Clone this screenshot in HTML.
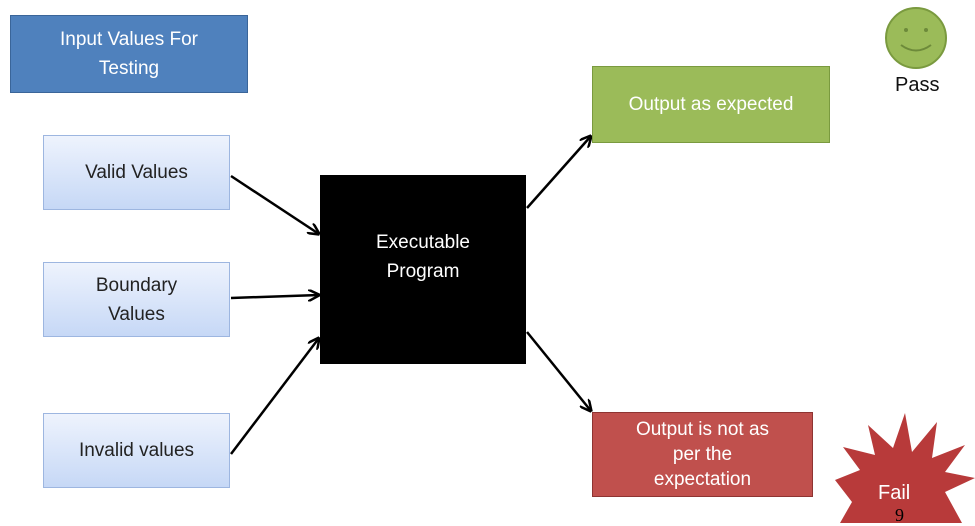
<!DOCTYPE html>
<html><head><style>
body{margin:0;width:975px;height:523px;background:#fff;overflow:hidden;position:relative;font-family:"Liberation Sans",sans-serif}
.b{position:absolute;display:flex;align-items:center;justify-content:center;text-align:center;box-sizing:border-box;font-size:19px;line-height:29px}
.lv{background:linear-gradient(#eef3fd,#c6d8f6);border:1px solid #9db6e0;color:#222}
</style></head><body>
<svg width="975" height="523" style="position:absolute;left:0;top:0">
<defs><marker id="a" markerWidth="12" markerHeight="12" refX="11" refY="6" orient="auto" markerUnits="userSpaceOnUse"><path d="M0,0 L12,6 L0,12" fill="none" stroke="#000" stroke-width="2.5"/></marker></defs>
<g stroke="#000" stroke-width="2.5" marker-end="url(#a)">
<line x1="231" y1="176" x2="319" y2="234"/>
<line x1="231" y1="298" x2="319" y2="295"/>
<line x1="231" y1="454" x2="319" y2="338"/>
<line x1="527" y1="208" x2="591" y2="136"/>
<line x1="527" y1="332" x2="591" y2="411"/>
</g>
<circle cx="916" cy="38" r="30" fill="#9bbb59" stroke="#7a9a3f" stroke-width="2"/>
<circle cx="906" cy="30" r="2" fill="#6d8a3a"/><circle cx="926" cy="30" r="2" fill="#6d8a3a"/>
<path d="M901,45 Q916,56 931,45" fill="none" stroke="#6d8a3a" stroke-width="2"/>
<polygon points="905,413 912,452 937,422 932,458 965,445 945,472 975,478 945,492 962,523 840,523 852,502 835,480 860,470 843,447 875,455 868,425 893,448" fill="#b83a3a"/>
</svg>
<div class="b" style="left:10px;top:15px;width:238px;height:78px;background:#4f81bd;border:1px solid #3a6599;color:#fff">Input Values For<br>Testing</div>
<div class="b lv" style="left:43px;top:135px;width:187px;height:75px">Valid Values</div>
<div class="b lv" style="left:43px;top:262px;width:187px;height:75px">Boundary<br>Values</div>
<div class="b lv" style="left:43px;top:413px;width:187px;height:75px">Invalid values</div>
<div class="b" style="left:320px;top:175px;width:206px;height:189px;background:#000;color:#fff;padding-bottom:25px">Executable<br>Program</div>
<div class="b" style="left:592px;top:66px;width:238px;height:77px;background:#9bbb59;border:1px solid #7a9a3f;color:#fff">Output as expected</div>
<div class="b" style="left:592px;top:412px;width:221px;height:85px;background:#c0504d;border:1px solid #8e3432;color:#fff;line-height:25px">Output is not as<br>per the<br>expectation</div>
<div style="position:absolute;left:895px;top:74px;font-size:20px;color:#111">Pass</div>
<div style="position:absolute;left:878px;top:482px;font-size:20px;color:#fff">Fail</div>
<div style="position:absolute;left:895px;top:505px;font-size:18px;font-family:'Liberation Serif',serif">9</div>
</body></html>
